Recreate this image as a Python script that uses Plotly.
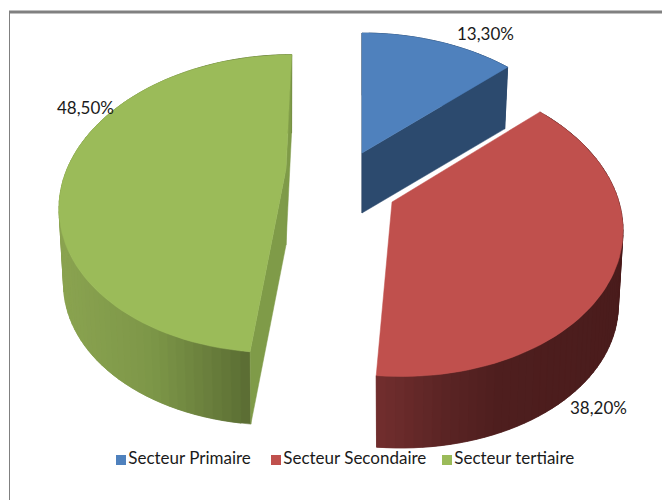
import math
import plotly.graph_objects as go

sectors = ["Secteur Primaire", "Secteur Secondaire", "Secteur tertiaire"]
values = [13.3, 38.2, 48.5]
value_labels = ["13,30%", "38,20%", "48,50%"]
top_colors = ["#4f81bd", "#c0504d", "#9bbb59"]
face_colors = ["#2c4a6e", "#6b2a2a", "#7f9b48"]

# Projection of each exploded wedge (screen pixels)
geom = [
    dict(cx=362, cy=153, A=227, B=148, k=0.233, T=0, depth=60, s=0.98),
    dict(cx=392, cy=202, A=227, B=148, k=0.152, T=-8, depth=75, s=0.98),
    dict(cx=286, cy=169, A=219, B=141, k=0.233, T=7, depth=76, s=0.98),
]
# Wall gradient: (x pixel, rgb) stops
wall_stops = [
    [(360, (44, 74, 110)), (510, (44, 74, 110))],
    [(376, (114, 46, 46)), (440, (92, 37, 37)), (500, (78, 30, 30)), (625, (74, 28, 28))],
    [(60, (138, 163, 80)), (150, (125, 151, 72)), (200, (108, 130, 62)), (255, (88, 106, 50))],
]
label_pos = [(485, 33), (598, 407), (85, 107)]
legend_x = [121, 276, 447]
legend_y = 460


def project(g, theta, r=1.0, low=False):
    X, Y = r * math.sin(theta), r * math.cos(theta)
    w = 1 + g["k"] * Y
    px = (g["A"] * X + g["T"] * Y) / w
    py = -g["B"] * Y / w
    if low:
        return g["cx"] + g["s"] * px, g["cy"] + g["depth"] + g["s"] * py
    return g["cx"] + px, g["cy"] + py


def wall_color(stops, x):
    if x <= stops[0][0]:
        c = stops[0][1]
    elif x >= stops[-1][0]:
        c = stops[-1][1]
    else:
        for (x0, c0), (x1, c1) in zip(stops, stops[1:]):
            if x0 <= x <= x1:
                t = (x - x0) / (x1 - x0)
                c = tuple(c0[i] + t * (c1[i] - c0[i]) for i in range(3))
                break
    return "rgb(%d,%d,%d)" % tuple(round(v) for v in c)


def poly(pts, color, name=None):
    xs = [p[0] for p in pts] + [pts[0][0]]
    ys = [p[1] for p in pts] + [pts[0][1]]
    return go.Scatter(x=xs, y=ys, mode="lines", fill="toself", fillcolor=color,
                      line=dict(color=color, width=0.5), hoverinfo="skip" if name is None else "text",
                      text=name, showlegend=False)


fig = go.Figure()
total = sum(values)
starts, acc = [], 0.0
for v in values:
    starts.append(acc)
    acc += v
for i in [2, 1, 0]:
    g = geom[i]
    a0 = starts[i] / total * 2 * math.pi
    a1 = (starts[i] + values[i]) / total * 2 * math.pi
    n = max(8, int((a1 - a0) / math.radians(2.0)))
    angles = [a0 + (a1 - a0) * j / n for j in range(n + 1)]
    centre = (g["cx"], g["cy"])
    centre_low = (g["cx"], g["cy"] + g["depth"])
    # outer wall: overlapping bands hide the seams of the gradient
    for j in range(n):
        last = min(n, j + 2)
        arc = angles[j:last + 1]
        p = [project(g, t) for t in arc] + [project(g, t, low=True) for t in reversed(arc)]
        mid = project(g, (angles[j] + angles[j + 1]) / 2)
        fig.add_trace(poly(p, wall_color(wall_stops[i], mid[0])))
    # cut faces
    if i == 0:
        fig.add_trace(poly([centre, project(g, a0), project(g, a0, low=True), centre_low], "#1f3553"))
        fig.add_trace(poly([centre, project(g, a1), project(g, a1, low=True), centre_low], face_colors[0]))
    if i == 2:
        fig.add_trace(poly([centre, project(g, a0), project(g, a0, low=True), centre_low], face_colors[2]))
        fig.add_trace(poly([centre, project(g, a1), project(g, a1, low=True), centre_low], face_colors[2]))
    # top surface
    fig.add_trace(poly([centre] + [project(g, t) for t in angles], top_colors[i],
                       f"{sectors[i]}: {value_labels[i]}"))

for i, name in enumerate(sectors):
    fig.add_trace(go.Scatter(x=[legend_x[i]], y=[legend_y], mode="markers+text", name=name,
                             text=[name], textposition="middle right", showlegend=False,
                             textfont=dict(family="Lato", size=17, color="#1a1a1a"),
                             marker=dict(symbol="square", size=10, color=top_colors[i])))
    fig.add_annotation(x=label_pos[i][0], y=label_pos[i][1], text=value_labels[i], showarrow=False,
                       font=dict(family="Lato", size=17, color="#1a1a1a"))

fig.add_shape(type="line", x0=9, x1=662, y0=12, y1=12, line=dict(color="#808080", width=3))
fig.add_shape(type="line", x0=9.5, x1=9.5, y0=11, y1=500, line=dict(color="#808080", width=1))

fig.update_layout(
    width=662, height=500, margin=dict(l=0, r=0, t=0, b=0), autosize=False,
    paper_bgcolor="white", plot_bgcolor="white", showlegend=False,
    xaxis=dict(range=[0, 662], visible=False, fixedrange=True),
    yaxis=dict(range=[500, 0], visible=False, fixedrange=True),
)
fig.write_html("out.html", config=dict(displayModeBar=False),
               post_script="document.body.style.margin='0';document.body.style.overflow='hidden';")
